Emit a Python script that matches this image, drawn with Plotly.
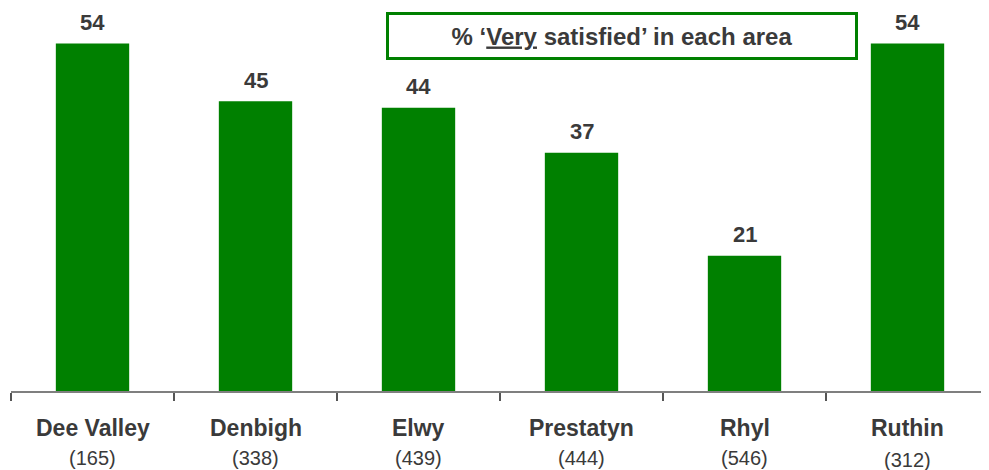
import plotly.graph_objects as go

areas = ['Dee Valley', 'Denbigh', 'Elwy', 'Prestatyn', 'Rhyl', 'Ruthin']
bases = [165, 338, 439, 444, 546, 312]
very_satisfied = [54, 45, 44, 37, 21, 54]

green = '#008000'
txt = '#3a3a3a'

fig = go.Figure()
fig.add_trace(go.Bar(
    x=areas, y=very_satisfied,
    marker=dict(color=green, line=dict(width=0)),
    width=0.45,
    hoverinfo='skip',
))

# value labels above bars
for a, v in zip(areas, very_satisfied):
    fig.add_annotation(x=a, y=v, text=f'<b>{v}</b>', showarrow=False,
                       yanchor='middle', yshift=21,
                       font=dict(size=22, color=txt))

# area names and base sizes under the axis
for i, (a, n) in enumerate(zip(areas, bases)):
    fig.add_annotation(x=a, y=0, xref='x', yref='paper', text=f'<b>{a}</b>',
                       showarrow=False, yanchor='middle', yshift=-37,
                       font=dict(size=23, color=txt))
    fig.add_annotation(x=a, y=0, xref='x', yref='paper', text=f'({n})',
                       showarrow=False, yanchor='middle',
                       yshift=-69 if i == len(areas) - 1 else -67,
                       font=dict(size=20, color=txt))

# legend-like box
fig.add_annotation(
    xref='paper', yref='paper', x=0.6245, y=0.9256,
    text='<b>% \u2018<u>Very</u> satisfied\u2019 in each area</b>',
    showarrow=False, xanchor='center', yanchor='middle',
    width=464, height=40, align='center',
    bordercolor=green, borderwidth=3, bgcolor='white',
    font=dict(size=24, color=txt),
)

# the page body adds an 8px offset, so the figure is sized to fit the window
fig.update_layout(
    width=981, height=462,
    margin=dict(l=3, r=0, t=0, b=79),
    paper_bgcolor='white', plot_bgcolor='white',
    font=dict(family='Liberation Sans, Arial', color=txt),
    showlegend=False,
    xaxis=dict(
        type='category',
        showticklabels=False,
        showline=True, linecolor='#7f7f7f', linewidth=1.5,
        ticks='outside', tickson='boundaries', ticklen=8,
        tickcolor='#555555', tickwidth=1.5,
        showgrid=False,
        range=[-0.5, 5.5],
    ),
    yaxis=dict(
        range=[0, 59.5], visible=False, showgrid=False, zeroline=False,
    ),
)

fig.write_html('out.html')
